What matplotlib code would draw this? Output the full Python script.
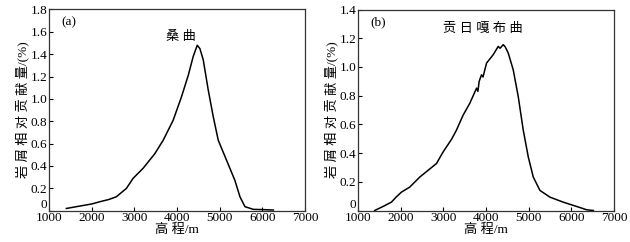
import matplotlib
matplotlib.use("Agg")
import matplotlib.pyplot as plt

plt.rcParams['font.family'] = ['Liberation Serif', 'Noto Sans CJK SC']
plt.rcParams['axes.unicode_minus'] = False

# Panel (a) 桑曲
elev_a = [1407, 1700, 2000, 2190, 2400, 2580, 2815, 2972, 3207, 3480, 3676, 3911, 4106,
          4263, 4380, 4474, 4537, 4615, 4732, 4850, 4967, 5163, 5358, 5475, 5593,
          5789, 6000, 6258]
contrib_a = [0.02, 0.04, 0.06, 0.08, 0.10, 0.125, 0.20, 0.29, 0.38, 0.51, 0.63, 0.81, 1.02,
             1.21, 1.38, 1.48, 1.45, 1.35, 1.08, 0.84, 0.63, 0.45, 0.27, 0.125, 0.036,
             0.012, 0.01, 0.006]

# Panel (b) 贡日嘎布曲
elev_b = [1391, 1600, 1782, 1900, 2017, 2213, 2448, 2643, 2839, 2995, 3152, 3200, 3308,
          3465, 3621, 3778, 3810, 3840, 3895, 3930, 4013, 4169, 4286, 4330, 4404, 4450,
          4521, 4638, 4756, 4873, 4991, 5108, 5264, 5499, 5812, 6125, 6360, 6517]
contrib_b = [0.0, 0.03, 0.058, 0.095, 0.128, 0.163, 0.233, 0.28, 0.327, 0.408, 0.478, 0.50, 0.56,
             0.665, 0.747, 0.852, 0.83, 0.90, 0.945, 0.93, 1.027, 1.085, 1.143, 1.13, 1.155, 1.14,
             1.097, 0.98, 0.793, 0.56, 0.373, 0.233, 0.14, 0.093, 0.058, 0.028, 0.005, 0.0]

xticks = [1000, 2000, 3000, 4000, 5000, 6000, 7000]
yticks_a = [0, 0.2, 0.4, 0.6, 0.8, 1.0, 1.2, 1.4, 1.6, 1.8]
yticks_b = [0, 0.2, 0.4, 0.6, 0.8, 1.0, 1.2, 1.4]

fig = plt.figure(figsize=(6.3, 2.42), dpi=100)
W, H = 630, 242
ax1 = fig.add_axes([49 / W, 1 - 210.7 / H, 256 / W, 201.2 / H])
ax2 = fig.add_axes([358 / W, 1 - 210.5 / H, 256 / W, 201 / H])

def fmt(v):
    return '0' if v == 0 else f'{v:.1f}'

for ax, x, y, yt, lab, name, pos in [
        (ax1, elev_a, contrib_a, yticks_a, '(a)', '桑 曲', (4100, 1.555)),
        (ax2, elev_b, contrib_b, yticks_b, '(b)', '贡 日 嘎 布 曲', (3920, 1.265))]:
    ax.plot(x, y, color='black', lw=1.1)
    ax.set_xlim(1000, 7000)
    ax.set_ylim(0, yt[-1])
    ax.set_xticks(xticks)
    ax.set_yticks(yt)
    ax.set_yticklabels([fmt(v) for v in yt])
    ax.tick_params(direction='in', length=3, width=0.8, labelsize=9.5)
    ax.tick_params(axis='x', pad=1)
    ax.tick_params(axis='y', pad=1)
    ax.get_yticklabels()[0].set_verticalalignment('bottom')
    for s in ax.spines.values():
        s.set_linewidth(0.9)
        s.set_color('#333333')
    ax.set_xlabel('高 程/m', fontsize=9.5, labelpad=0)
    ax.set_ylabel('岩 屑 相 对 贡 献 量/(%)', fontsize=9.5, labelpad=1)
    ax.text(0.05, 0.965, lab, transform=ax.transAxes, ha='left', va='top', fontsize=9.5)
    ax.text(pos[0], pos[1], name, ha='center', va='center', fontsize=9.5)

fig.savefig('out.png', dpi=100)
